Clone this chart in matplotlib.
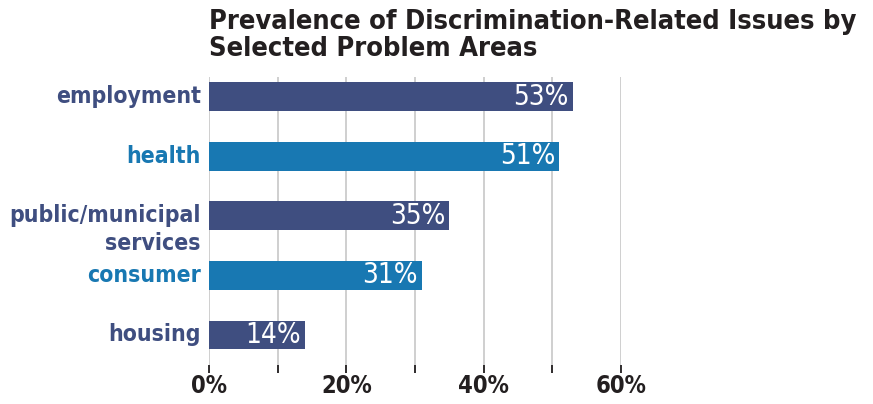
import matplotlib.pyplot as plt
import matplotlib.transforms as mtransforms

categories = ["employment", "health", "public/municipal\nservices", "consumer", "housing"]
values = [53, 51, 35, 31, 14]
bar_colors = ["#3f4e80", "#1878b2", "#3f4e80", "#1878b2", "#3f4e80"]
xticks = [0, 10, 20, 30, 40, 50, 60]
xticklabels = ["0%", "", "20%", "", "40%", "", "60%"]
title = "Prevalence of Discrimination-Related Issues by\nSelected Problem Areas"

plt.rcParams['font.family'] = ['DejaVu Sans']

fig = plt.figure(figsize=(8.73, 4.04), dpi=100)
ax = fig.add_axes([209 / 873, 1 - 373 / 404, (621 - 209) / 873, (373 - 77) / 404])

ypos = list(range(len(categories)))
ax.barh(ypos, values, height=0.48, color=bar_colors, zorder=3)

ax.set_xlim(0, 60)
ax.set_ylim(4.64, -0.33)
ax.set_xticks(xticks)
ax.set_xticklabels(xticklabels, fontsize=17, fontweight='bold', color='#231f20',
                   fontstretch='condensed')
ax.tick_params(axis='x', direction='in', length=6, width=1.3, color='#231f20', pad=1)
ax.set_yticks([])
ax.grid(axis='x', color='#cccccc', linewidth=1.3, zorder=0)
for s in ax.spines.values():
    s.set_visible(False)

# category labels, left of the axes
trans = mtransforms.blended_transform_factory(ax.transAxes, ax.transData)
for y, lab, c in zip(ypos, categories, bar_colors):
    lines = lab.split("\n")
    for k, line in enumerate(lines):
        ax.annotate(line, xy=(0, y), xycoords=trans, xytext=(-6, -k * 20),
                    textcoords='offset points', ha='right', va='center',
                    fontsize=16.5, fontweight='bold', color=c, fontstretch='condensed')

# value labels inside bar ends
for y, v in zip(ypos, values):
    ax.annotate(f"{v}%", xy=(v, y), xytext=(-3, 0), textcoords='offset points',
                ha='right', va='center', fontsize=20, color='white',
                fontstretch='condensed', zorder=4)

fig.text(209 / 873, 1 - 9 / 404, title, ha='left', va='top', fontsize=19.5,
         fontweight='bold', color='#231f20', linespacing=1.05, fontstretch='condensed')

fig.savefig("out.png", dpi=100, facecolor='white')
